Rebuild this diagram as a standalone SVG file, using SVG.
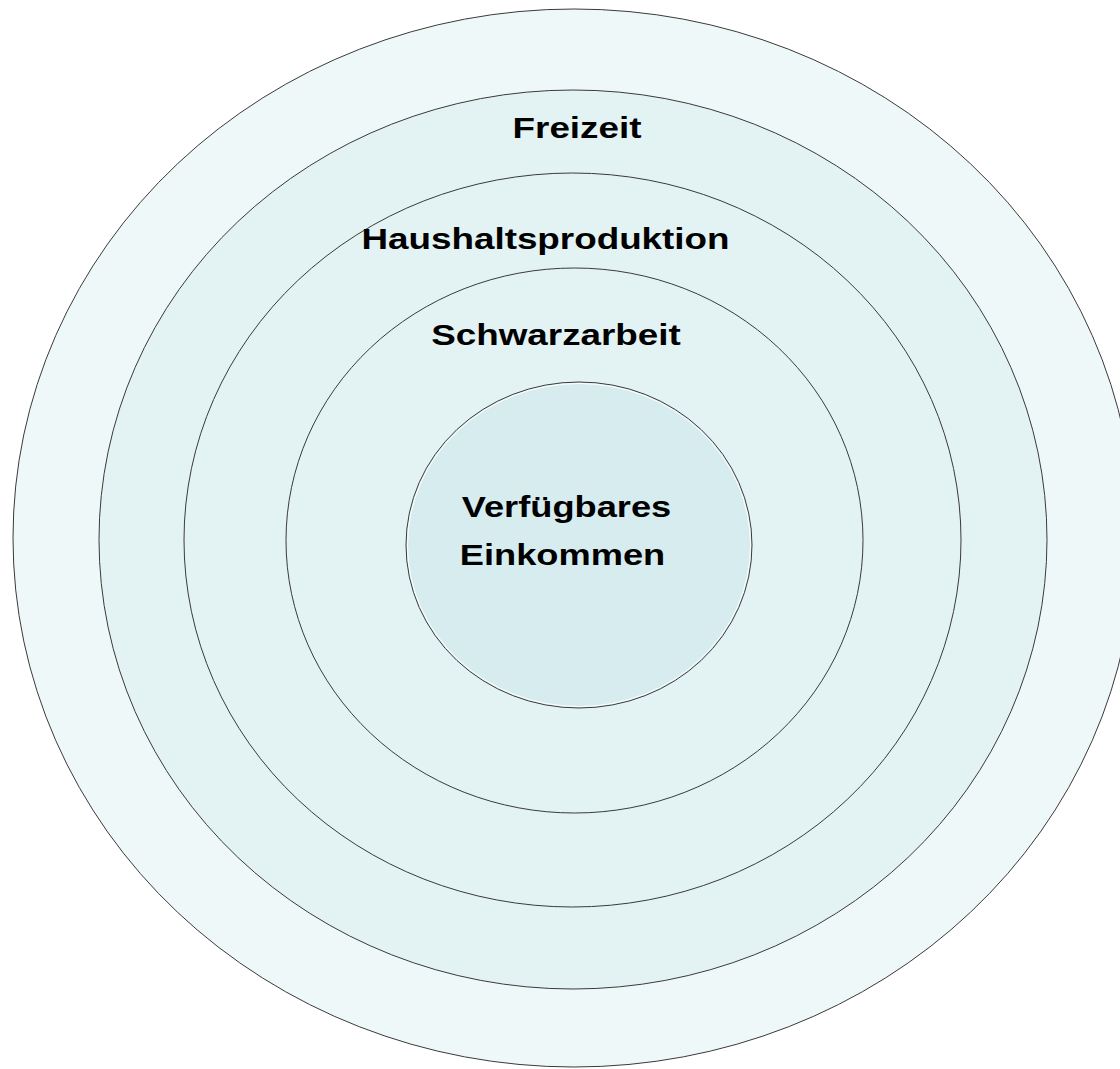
<svg xmlns="http://www.w3.org/2000/svg" width="1120" height="1069" viewBox="0 0 1120 1069">
<style>
.ring{stroke:#3a3a3a;stroke-width:1}
.lbl{font-family:"Liberation Sans",Arial,sans-serif;font-weight:bold;font-size:29px;fill:#000;text-anchor:middle}
</style>
<rect width="1120" height="1069" fill="#fff"/>
<g id="freizeit-outer"><ellipse class="ring" cx="574" cy="538" rx="561" ry="529" fill="#EFF8F8"/></g>
<g id="freizeit"><ellipse class="ring" cx="573" cy="539.5" rx="474" ry="449.5" fill="#E3F3F4"/>
<text class="lbl" transform="translate(577,138) scale(1.27,1)">Freizeit</text></g>
<g id="haushaltsproduktion"><ellipse class="ring" cx="572.5" cy="540" rx="388.5" ry="367" fill="#E3F3F4"/>
<text class="lbl" transform="translate(545.5,249) scale(1.27,1)">Haushaltsproduktion</text></g>
<g id="schwarzarbeit"><ellipse class="ring" cx="574.5" cy="540.5" rx="288.5" ry="272.5" fill="#E3F3F4"/>
<text class="lbl" transform="translate(556,345) scale(1.27,1)">Schwarzarbeit</text></g>
<g id="einkommen"><ellipse class="ring" cx="579" cy="545" rx="173" ry="163" fill="#D6ECEF"/>
<ellipse cx="579" cy="545" rx="171.5" ry="161.5" fill="none" stroke="#ffffff" stroke-width="1"/>
<text class="lbl" transform="translate(566.5,517) scale(1.25,1)">Verfügbares</text>
<text class="lbl" transform="translate(562.5,565) scale(1.25,1)">Einkommen</text></g>
<g id="connectors"></g>
</svg>
